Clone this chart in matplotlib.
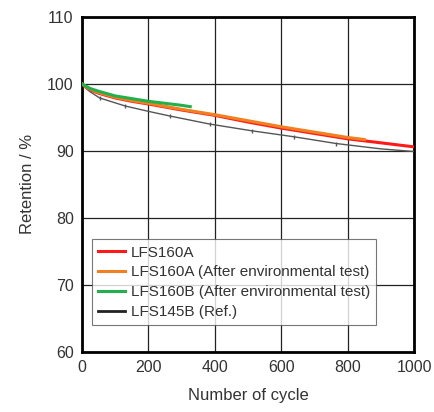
"""Cycle retention chart (LFS160A / LFS160B / LFS145B)."""

import matplotlib
import matplotlib.pyplot as plt

matplotlib.use("Agg")
plt.rcParams["font.family"] = ["Liberation Sans", "DejaVu Sans"]

# --- data ---
cycles_red = [0, 10, 25, 50, 100, 150, 200, 300, 400, 500, 600, 700, 800, 900, 1000]
ret_red = [100, 99.6, 99.1, 98.6, 97.9, 97.4, 97.0, 96.1, 95.3, 94.3, 93.4, 92.6, 91.8, 91.2, 90.6]

cycles_orange = [0, 10, 25, 50, 100, 150, 200, 300, 400, 500, 600, 700, 800, 850]
ret_orange = [100, 99.6, 99.2, 98.7, 98.0, 97.5, 97.1, 96.2, 95.4, 94.5, 93.6, 92.8, 92.0, 91.7]

cycles_green = [0, 10, 25, 50, 100, 150, 200, 250, 300, 326]
ret_green = [100, 99.7, 99.3, 98.9, 98.2, 97.8, 97.4, 97.1, 96.8, 96.6]

cycles_gray = [0, 10, 25, 53, 130, 200, 265, 385, 511, 639, 765, 900, 1000]
ret_gray = [100, 99.4, 98.8, 97.9, 96.7, 95.9, 95.2, 94.0, 93.0, 92.1, 91.1, 90.3, 89.9]
cycles_gray_marks = [53, 130, 265, 385, 511, 639, 765]
ret_gray_marks = [97.9, 96.7, 95.2, 94.0, 93.0, 92.1, 91.1]

labels = [
    "LFS160A",
    "LFS160A (After environmental test)",
    "LFS160B (After environmental test)",
    "LFS145B (Ref.)",
]
x_ticks = [0, 200, 400, 600, 800, 1000]
y_ticks = [60, 70, 80, 90, 100, 110]

fig = plt.figure(figsize=(4.34, 4.12), dpi=100)
ax = fig.add_axes([0.189, 0.146, 0.765, 0.813])

ax.plot(cycles_gray, ret_gray, color="#555555", linewidth=1.0, zorder=3)
ax.plot(cycles_gray_marks, ret_gray_marks, linestyle="none", marker="|",
        markersize=3, color="#555555", zorder=3)
ax.plot(cycles_red, ret_red, color="#ff1a1a", linewidth=2.2, label=labels[0], zorder=4)
ax.plot(cycles_orange, ret_orange, color="#f08020", linewidth=2.2, label=labels[1], zorder=5)
ax.plot(cycles_green, ret_green, color="#22b04b", linewidth=2.2, label=labels[2], zorder=6)
ax.plot([], [], color="#222222", linewidth=2.0, label=labels[3])

ax.set_xlim(0, 1000)
ax.set_ylim(60, 110)
ax.set_xticks(x_ticks)
ax.set_yticks(y_ticks)
ax.grid(True, color="#222222", linewidth=0.9)
ax.tick_params(length=0, pad=6, labelsize=11.5, colors="#333333")
for s in ax.spines.values():
    s.set_linewidth(2.0)
    s.set_color("black")

ax.set_xlabel("Number of cycle", fontsize=12, color="#333333", labelpad=9)
ax.set_ylabel("Retention / %", fontsize=12, color="#333333", labelpad=9)

leg = ax.legend(loc="lower left", bbox_to_anchor=(0.029, 0.08), fontsize=11,
                frameon=True, fancybox=False, borderpad=0.4, handlelength=1.8,
                handletextpad=0.35, labelspacing=0.38, borderaxespad=0)
leg.get_frame().set_edgecolor("#555555")
leg.get_frame().set_linewidth(0.8)
for t in leg.get_texts():
    t.set_color("#333333")

fig.savefig("out.png", dpi=100)
plt.close(fig)
